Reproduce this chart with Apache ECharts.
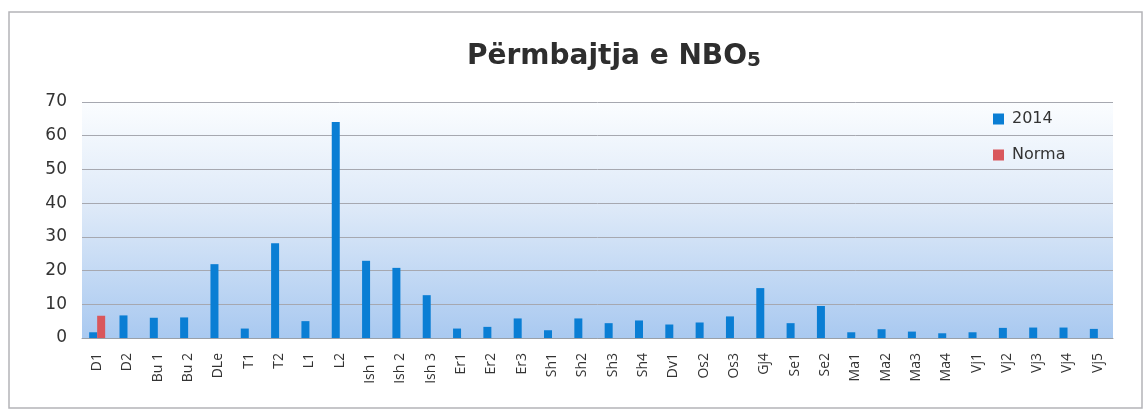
<!DOCTYPE html>
<html>
<head>
<meta charset="utf-8">
<script src="https://cdn.jsdelivr.net/npm/echarts@6/dist/echarts.min.js"></script>
<style>
  html, body { margin: 0; padding: 0; background: #fff; }
  #nbo5 { width: 1146px; height: 413px; }
</style>
</head>
<body>
<div id="nbo5"></div>
<script>
  // stations
  var categories = ['D1', 'D2', 'Bu 1', 'Bu 2', 'DLe', 'T1', 'T2', 'L1', 'L2', 'Ish 1', 'Ish 2', 'Ish 3',
    'Er1', 'Er2', 'Er3', 'Sh1', 'Sh2', 'Sh3', 'Sh4', 'Dv1', 'Os2', 'Os3', 'Gj4', 'Se1', 'Se2',
    'Ma1', 'Ma2', 'Ma3', 'Ma4', 'Vj1', 'Vj2', 'Vj3', 'Vj4', 'Vj5'];

  var values2014 = [1.7, 6.7, 6.0, 6.1, 21.9, 2.8, 28.1, 5.0, 64.1, 22.9, 20.8, 12.7,
    2.8, 3.3, 5.8, 2.3, 5.8, 4.4, 5.2, 4.0, 4.6, 6.4, 14.8, 4.4, 9.5,
    1.7, 2.6, 1.9, 1.4, 1.7, 3.0, 3.1, 3.1, 2.7];

  // norm only given for the first station
  var valuesNorma = [6.6, null, null, null, null, null, null, null, null, null, null, null,
    null, null, null, null, null, null, null, null, null, null, null, null, null,
    null, null, null, null, null, null, null, null, null];

  var yTicks = [0, 10, 20, 30, 40, 50, 60, 70];

  var chart = echarts.init(document.getElementById('nbo5'));

  var option = {
    backgroundColor: '#ffffff',
    animation: false,
    graphic: [{
      type: 'rect',
      shape: { x: 9, y: 12, width: 1133, height: 396 },
      style: { fill: 'none', stroke: '#b4b4b8', lineWidth: 1.5 },
      silent: true
    }],
    title: {
      text: 'Përmbajtja e NBO{s|5}',
      left: 462,
      top: 38,
      textStyle: {
        fontFamily: 'DejaVu Sans',
        fontWeight: 'bold',
        fontSize: 28,
        color: '#2e2e2e',
        rich: {
          s: { fontFamily: 'DejaVu Sans', fontWeight: 'bold', fontSize: 20, color: '#2e2e2e', verticalAlign: 'bottom', padding: [8, 0, 0, 0] }
        }
      }
    },
    legend: {
      orient: 'vertical',
      left: 988,
      top: 106,
      itemWidth: 11,
      itemHeight: 11,
      itemGap: 20,
      icon: 'rect',
      textStyle: { fontFamily: 'DejaVu Sans', fontSize: 16, color: '#333', padding: [0, 0, 0, 3] },
      data: ['2014', 'Norma']
    },
    grid: {
      left: 82,
      right: 33,
      top: 102,
      height: 236
    },
    xAxis: {
      type: 'category',
      data: categories,
      axisTick: { show: false },
      axisLine: { lineStyle: { color: '#9aa0a8', width: 1 } },
      axisLabel: {
        rotate: 90,
        interval: 0,
        margin: 15,
        fontFamily: 'Open Sans',
        fontSize: 14,
        color: '#333'
      }
    },
    yAxis: {
      type: 'value',
      min: yTicks[0],
      max: yTicks[yTicks.length - 1],
      interval: 10,
      axisLine: { show: false },
      axisTick: { show: false },
      axisLabel: {
        margin: 15,
        fontFamily: 'DejaVu Sans',
        fontSize: 17,
        color: '#333'
      },
      splitLine: { lineStyle: { color: '#a6a8b0', width: 1 } }
    },
    series: [
      {
        name: '2014',
        type: 'bar',
        data: values2014,
        barWidth: 8,
        barGap: '0%',
        itemStyle: { color: '#0a7ed4' }
      },
      {
        name: 'Norma',
        type: 'bar',
        data: valuesNorma,
        barWidth: 8,
        itemStyle: { color: '#d9575c' }
      }
    ]
  };

  // plot background: white at top fading to light blue at the base
  option.grid.show = true;
  option.grid.borderWidth = 0;
  option.grid.backgroundColor = new echarts.graphic.LinearGradient(0, 0, 0, 1, [
    { offset: 0, color: '#fbfdff' },
    { offset: 0.45, color: '#dde9f8' },
    { offset: 1, color: '#a9c9f0' }
  ]);

  chart.setOption(option);
</script>
</body>
</html>
